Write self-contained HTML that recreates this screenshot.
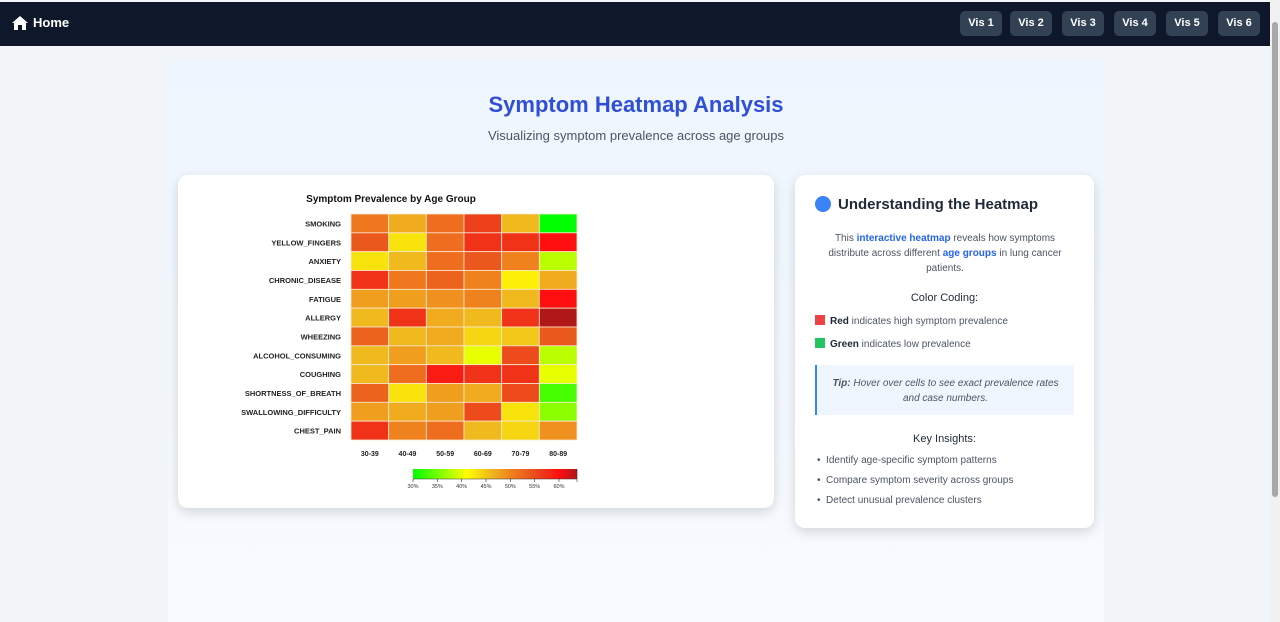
<!DOCTYPE html>
<html><head><meta charset="utf-8">
<style>
*{box-sizing:border-box;margin:0;padding:0}
body{width:1280px;height:622px;overflow:hidden;background:#f1f5f9;font-family:"Liberation Sans",sans-serif;position:relative}
.nav{position:absolute;left:0;top:2px;width:1270px;height:44px;background:#0f172a}
.home{position:absolute;left:12px;top:13px;color:#fff;font-weight:bold;font-size:13px;display:flex;align-items:center;gap:5px}
.vb{position:absolute;top:9px;height:25px;width:42px;background:#334155;color:#fff;border-radius:5px;font-size:11px;font-weight:bold;text-align:center;line-height:25px}
.scroll{position:absolute;right:0;top:0;width:10px;height:622px;background:#f1f1f1}
.thumb{position:absolute;right:2px;top:22px;width:6px;height:475px;background:#a8a8a8;border-radius:3px}
.main{position:absolute;left:168px;top:60px;width:936px;height:562px;background:linear-gradient(#eef5fe,#f8fbff)}
h1{position:absolute;left:0;width:936px;top:32px;text-align:center;font-size:22px;color:#2f4fd6;font-weight:bold}
.sub{position:absolute;left:0;width:936px;top:68px;text-align:center;font-size:13px;color:#4b5563}
.card{position:absolute;background:#fff;border-radius:10px;box-shadow:0 4px 12px rgba(0,0,0,.15)}
.rc{font-size:10px;color:#4b5563}
</style></head><body>
<div class="nav">
<div class="home"><svg width="16" height="14" viewBox="0 0 16 14"><path d="M8 0L0 7h2v7h4V9h4v5h4V7h2z" fill="#fff"/></svg>Home</div>
<div class="vb" style="left:960px">Vis 1</div>
<div class="vb" style="left:1010px">Vis 2</div>
<div class="vb" style="left:1062px">Vis 3</div>
<div class="vb" style="left:1114px">Vis 4</div>
<div class="vb" style="left:1166px">Vis 5</div>
<div class="vb" style="left:1218px">Vis 6</div>
</div>
<div class="scroll"><div class="thumb"></div></div>
<div class="main">
<h1>Symptom Heatmap Analysis</h1>
<div class="sub">Visualizing symptom prevalence across age groups</div>
</div>
<div class="card" style="left:178px;top:175px;width:596px;height:333px">
<svg id="hm" width="596" height="333"></svg>
</div>
<div class="card" style="left:795px;top:175px;width:299px;height:353px">
<div style="position:absolute;left:20px;top:21px;width:16px;height:16px;border-radius:50%;background:#3b82f6"></div>
<div style="position:absolute;left:43px;top:21px;font-size:15px;font-weight:bold;color:#1f2937">Understanding the Heatmap</div>
<div class="rc" style="position:absolute;left:25px;width:250px;top:56px;text-align:center;line-height:15px">This <b style="color:#2563eb">interactive heatmap</b> reveals how symptoms distribute across different <b style="color:#2563eb">age groups</b> in lung cancer patients.</div>
<div style="position:absolute;left:0;width:299px;top:117px;text-align:center;font-size:11px;color:#1f2937">Color Coding:</div>
<div class="rc" style="position:absolute;left:20px;top:140px"><span style="display:inline-block;width:10px;height:10px;background:#ef4444;vertical-align:-1px;margin-right:5px"></span><b style="color:#1f2937">Red</b> indicates high symptom prevalence</div>
<div class="rc" style="position:absolute;left:20px;top:163px"><span style="display:inline-block;width:10px;height:10px;background:#22c55e;vertical-align:-1px;margin-right:5px"></span><b style="color:#1f2937">Green</b> indicates low prevalence</div>
<div class="rc" style="position:absolute;left:20px;top:190px;width:259px;height:50px;background:#eff6ff;border-left:2px solid #3b82f6;text-align:center;font-style:italic;padding:11px 8px;line-height:15px"><b>Tip:</b> Hover over cells to see exact prevalence rates and case numbers.</div>
<div style="position:absolute;left:0;width:299px;top:258px;text-align:center;font-size:11px;color:#1f2937">Key Insights:</div>
<div class="rc" style="position:absolute;left:22px;top:276px;line-height:20px">•&nbsp;&nbsp;Identify age-specific symptom patterns<br>•&nbsp;&nbsp;Compare symptom severity across groups<br>•&nbsp;&nbsp;Detect unusual prevalence clusters</div>
</div>
<script>
const symptoms=["SMOKING","YELLOW_FINGERS","ANXIETY","CHRONIC_DISEASE","FATIGUE","ALLERGY","WHEEZING","ALCOHOL_CONSUMING","COUGHING","SHORTNESS_OF_BREATH","SWALLOWING_DIFFICULTY","CHEST_PAIN"];
const ageGroups=["30-39","40-49","50-59","60-69","70-79","80-89"];
const values=[
[51,47,52,56,46,30],
[54,43,52,57,57,60],
[43,46,52,54,50,38],
[57,51,53,50,42,47],
[48,48,49,50,46,60],
[46,57,47,46,57,64],
[53,46,47,44,45,54],
[46,48,46,40,55,38],
[46,52,59,57,57,40],
[53,43,48,47,55,33],
[48,47,48,55,43,36],
[57,50,52,46,44,49]];
const legendTicks=[30,35,40,45,50,55,60];
const NS="http://www.w3.org/2000/svg";
const svg=document.getElementById('hm');
const stops=[[30,[0,255,0]],[41,[255,255,0]],[46,[240,185,30]],[50,[240,130,30]],[54,[235,88,30]],[57,[240,50,25]],[60,[255,15,15]],[64,[176,24,24]]];
function color(v){
 if(v<=stops[0][0])return 'rgb('+stops[0][1]+')';
 for(let i=1;i<stops.length;i++){if(v<=stops[i][0]){const a=stops[i-1],b=stops[i];const t=(v-a[0])/(b[0]-a[0]);return 'rgb('+a[1].map((c,k)=>Math.round(c+(b[1][k]-c)*t)).join(',')+')';}}
 return 'rgb('+stops[stops.length-1][1]+')';}
const x0=173,y0=39,cw=226/6,ch=226/12;
const xs=i=>x0+i*cw, ys=j=>y0+j*ch;
function el(t,a,txt){const e=document.createElementNS(NS,t);for(const k in a)e.setAttribute(k,a[k]);if(txt!=null)e.textContent=txt;svg.appendChild(e);return e;}
const ti=el('text',{x:213,y:27,'text-anchor':'middle','font-size':'10','font-weight':'bold',fill:'#111'},'Symptom Prevalence by Age Group');


values.forEach((row,j)=>row.forEach((v,i)=>{
 const r=el('rect',{x:xs(i),y:ys(j),width:cw,height:ch,fill:color(v),stroke:'#fbe9d0','stroke-width':0.8});
 
 
}));
symptoms.forEach((s,j)=>{
 const t=el('text',{x:163,y:ys(j)+ch/2+3,'text-anchor':'end','font-size':'7.5',fill:'#222','font-weight':'600'},s);
 
 
});
ageGroups.forEach((g,i)=>{
 const t=el('text',{x:xs(i)+cw/2,y:281,'text-anchor':'middle','font-size':'7',fill:'#222','font-weight':'600'},g);
 
 
});
const lx0=235,lx1=399,lmin=30,lmax=63.7;
const lx=v=>lx0+(v-lmin)/(lmax-lmin)*(lx1-lx0);
const defs=el('defs',{});
const gr=document.createElementNS(NS,'linearGradient');gr.setAttribute('id','lg');defs.appendChild(gr);
stops.forEach(s=>{const st=document.createElementNS(NS,'stop');st.setAttribute('offset',Math.min(1,(s[0]-lmin)/(lmax-lmin)));st.setAttribute('stop-color','rgb('+s[1]+')');gr.appendChild(st);});
const lb=el('rect',{x:lx0,y:294,width:lx1-lx0,height:10,fill:'url(#lg)'});


el('line',{x1:lx0,x2:lx1,y1:304,y2:304,stroke:'#333','stroke-width':0.6});
legendTicks.forEach(v=>{
 el('line',{x1:lx(v),x2:lx(v),y1:304,y2:307,stroke:'#333','stroke-width':0.6});
 const t=el('text',{x:lx(v),y:313,'text-anchor':'middle','font-size':'5.5',fill:'#333'},v+'%');
 
 
});
el('line',{x1:lx1,x2:lx1,y1:294,y2:307,stroke:'#333','stroke-width':0.6});
</script>
</body></html>
